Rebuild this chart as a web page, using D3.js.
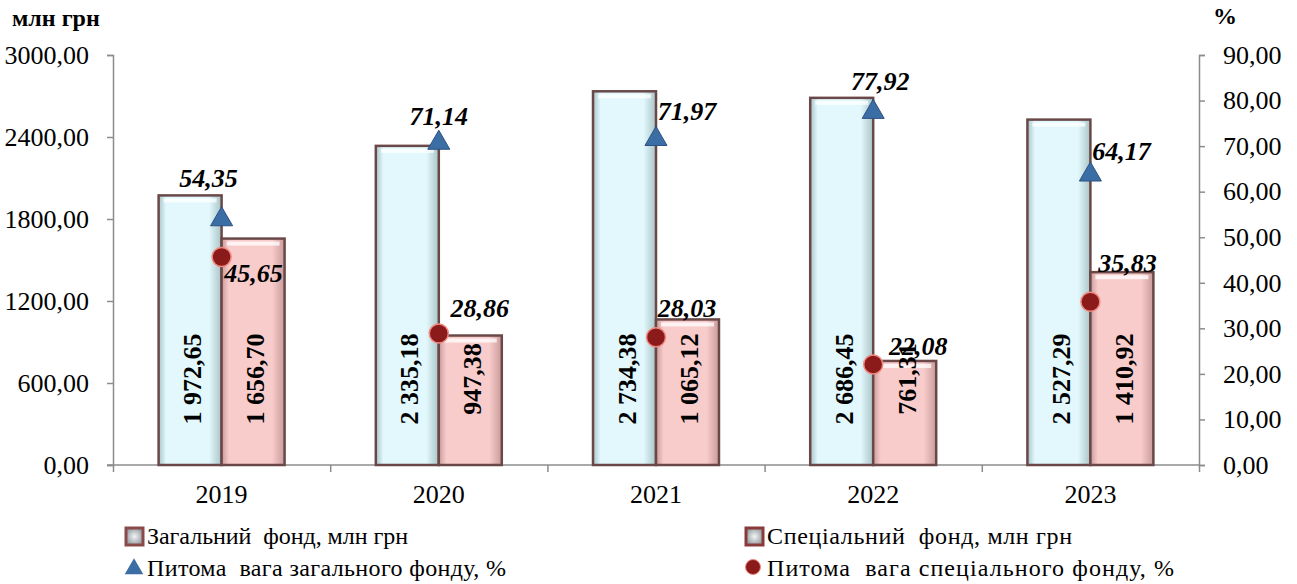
<!DOCTYPE html>
<html>
<head>
<meta charset="utf-8">
<script src="https://cdn.jsdelivr.net/npm/d3@7"></script>
<style>
  body { margin: 0; background: #fff; }
  svg { display: block; }
  svg text { font-family: "Liberation Serif", "DejaVu Serif", serif !important; }
</style>
</head>
<body>
<div id="chart"></div>
<script>
// data
var years = ["2019", "2020", "2021", "2022", "2023"];
var generalFund = [1972.65, 2335.18, 2734.38, 2686.45, 2527.29];   // млн грн
var specialFund = [1656.70, 947.38, 1065.12, 761.31, 1410.92];     // млн грн
var generalShare = [54.35, 71.14, 71.97, 77.92, 64.17];            // %
var specialShare = [45.65, 28.86, 28.03, 22.08, 35.83];            // %
var leftTicks = [0, 600, 1200, 1800, 2400, 3000];
var rightTicks = [0, 10, 20, 30, 40, 50, 60, 70, 80, 90];
var legendNames = ["Загальний  фонд, млн грн", "Спеціальний  фонд, млн грн",
                   "Питома  вага загального фонду, %", "Питома  вага спеціального фонду, %"];

// where the % labels sit relative to their markers (dx, baseline dy)
var triLabelOff = [[-13, -30], [0, -16], [31, -17], [7, -20], [31, -13]];
var circLabelOff = [[32, 25], [41, -17], [31, -20], [45, -9], [37, -30]];

var W = 1297, H = 584;
var mLeft = 113, mRight = 1199, mTop = 55, mBottom = 465;
var serif = "'Liberation Serif', 'DejaVu Serif', serif";

var loc = d3.formatLocale({decimal: ",", thousands: " ", grouping: [3], currency: ["", ""]});
var fmtTick = loc.format(".2f");
var fmtVal = loc.format(",.2f");
var fmtPct = loc.format(".2f");

var svg = d3.select("#chart").append("svg")
  .attr("width", W).attr("height", H)
  .style("font-family", serif);

var defs = svg.append("defs");
function barGrad(id, edge, mid) {
  var g = defs.append("linearGradient").attr("id", id)
    .attr("x1", 0).attr("x2", 1).attr("y1", 0).attr("y2", 0);
  g.append("stop").attr("offset", "0%").attr("stop-color", edge);
  g.append("stop").attr("offset", "12%").attr("stop-color", mid);
  g.append("stop").attr("offset", "80%").attr("stop-color", mid);
  g.append("stop").attr("offset", "100%").attr("stop-color", edge);
}
barGrad("gGen", "#a9c4c8", "#e2f8fc");
barGrad("gSpec", "#c99a9a", "#f9cccc");
var lg = defs.append("radialGradient").attr("id", "gLeg");
lg.append("stop").attr("offset", "0%").attr("stop-color", "#f4f4f4");
lg.append("stop").attr("offset", "100%").attr("stop-color", "#9aa3a8");

// scales
var x0 = d3.scaleBand().domain(years).range([mLeft, mRight])
  .paddingInner(0.42).paddingOuter(0.21);
var x1 = d3.scaleBand().domain(["gen", "spec"]).range([0, x0.bandwidth()]);
var yL = d3.scaleLinear().domain([0, 3000]).range([mBottom, mTop]);
var yR = d3.scaleLinear().domain([0, 90]).range([mBottom, mTop]);
function cx(i) { return x0(years[i]) + x0.bandwidth() / 2; }

// axes
var axisColor = "#8c8c8c";
var gL = svg.append("g").attr("transform", "translate(" + mLeft + ",0)")
  .call(d3.axisLeft(yL).tickValues(leftTicks).tickSize(6).tickPadding(18).tickFormat(fmtTick));
var gR = svg.append("g").attr("transform", "translate(" + mRight + ",0)")
  .call(d3.axisRight(yR).tickValues(rightTicks).tickSize(6).tickPadding(18).tickFormat(fmtTick));
var xb = d3.scaleLinear().domain([0, years.length]).range([mLeft, mRight]);
var gB = svg.append("g").attr("transform", "translate(0," + mBottom + ")")
  .call(d3.axisBottom(xb).tickValues(d3.range(years.length + 1)).tickSize(7).tickFormat(""));
[gL, gR, gB].forEach(function (g) {
  g.attr("font-family", null).style("font-family", serif);
  g.select(".domain").attr("stroke", axisColor).attr("stroke-width", 1.5);
  g.selectAll(".tick line").attr("stroke", axisColor).attr("stroke-width", 1.5);
  g.selectAll(".tick text").attr("fill", "#000").attr("font-size", 26);
});
gB.select(".domain").attr("d", "M" + (mLeft - 6) + ",0H" + mRight);

// year labels
svg.append("g").selectAll("text").data(years).enter().append("text")
  .attr("x", function (d, i) { return cx(i); })
  .attr("y", mBottom + 38)
  .attr("text-anchor", "middle").attr("font-size", 26)
  .text(function (d) { return d; });

// bars
var series = [
  {key: "gen", vals: generalFund, fill: "url(#gGen)"},
  {key: "spec", vals: specialFund, fill: "url(#gSpec)"}
];
series.forEach(function (s) {
  var g = svg.append("g");
  g.selectAll("rect.bar").data(s.vals).enter().append("rect")
    .attr("class", "bar")
    .attr("x", function (d, i) { return x0(years[i]) + x1(s.key); })
    .attr("y", function (d) { return yL(d); })
    .attr("width", x1.bandwidth())
    .attr("height", function (d) { return mBottom - yL(d); })
    .attr("fill", s.fill)
    .attr("stroke", "#6a4848").attr("stroke-width", 2.5);
  // top highlight of the bevel
  g.selectAll("rect.hl").data(s.vals).enter().append("rect")
    .attr("class", "hl")
    .attr("x", function (d, i) { return x0(years[i]) + x1(s.key) + 5; })
    .attr("y", function (d) { return yL(d) + 3; })
    .attr("width", x1.bandwidth() - 10)
    .attr("height", 4)
    .attr("fill", "#fff").attr("opacity", 0.75);
  // values inside bars
  g.selectAll("text").data(s.vals).enter().append("text")
    .attr("transform", function (d, i) {
      return "translate(" + (x0(years[i]) + x1(s.key) + x1.bandwidth() / 2 + 11) + "," + (mBottom - 86) + ") rotate(-90)";
    })
    .attr("text-anchor", "middle")
    .attr("font-size", 26).attr("font-weight", "bold")
    .text(function (d) { return fmtVal(d); });
});

// markers
svg.append("g").selectAll("path").data(generalShare).enter().append("path")
  .attr("d", d3.symbol().type(d3.symbolTriangle).size(210))
  .attr("transform", function (d, i) { return "translate(" + cx(i) + "," + (yR(d) + 2) + ")"; })
  .attr("fill", "#3c6ea6").attr("stroke", "#2b5282").attr("stroke-width", 1);
svg.append("g").selectAll("circle").data(specialShare).enter().append("circle")
  .attr("cx", function (d, i) { return cx(i); })
  .attr("cy", function (d) { return yR(d); })
  .attr("r", 9.5)
  .attr("fill", "#8b1a1a").attr("stroke", "#f08a80").attr("stroke-width", 1.5);

// % labels
svg.append("g").selectAll("text").data(generalShare).enter().append("text")
  .attr("x", function (d, i) { return cx(i) + triLabelOff[i][0]; })
  .attr("y", function (d, i) { return yR(d) + triLabelOff[i][1]; })
  .attr("text-anchor", "middle").attr("font-size", 26)
  .attr("font-weight", "bold").attr("font-style", "italic")
  .text(function (d) { return fmtPct(d); });
svg.append("g").selectAll("text").data(specialShare).enter().append("text")
  .attr("x", function (d, i) { return cx(i) + circLabelOff[i][0]; })
  .attr("y", function (d, i) { return yR(d) + circLabelOff[i][1]; })
  .attr("text-anchor", "middle").attr("font-size", 26)
  .attr("font-weight", "bold").attr("font-style", "italic")
  .text(function (d) { return fmtPct(d); });

// axis titles
svg.append("text").attr("x", 12).attr("y", 26)
  .attr("font-size", 24).attr("font-weight", "bold").text("млн грн");
svg.append("text").attr("x", 1213).attr("y", 24)
  .attr("font-size", 24).attr("font-weight", "bold").text("%");

// legend
var legPos = [[125, 544], [745, 544], [125, 576], [745, 576]];
var legLen = [261, 305, 359, 407];
var leg = svg.append("g");
legendNames.forEach(function (name, i) {
  var p = legPos[i];
  var g = leg.append("g").attr("transform", "translate(" + p[0] + "," + p[1] + ")");
  if (i < 2) {
    g.append("rect").attr("x", 1).attr("y", -16).attr("width", 17).attr("height", 17)
      .attr("fill", "url(#gLeg)").attr("stroke", i === 0 ? "#8a4a4a" : "#8a3a3a").attr("stroke-width", 3);
  } else if (i === 2) {
    g.append("path").attr("d", d3.symbol().type(d3.symbolTriangle).size(150))
      .attr("transform", "translate(9,-7)").attr("fill", "#3c6ea6");
  } else {
    g.append("circle").attr("cx", 8).attr("cy", -9).attr("r", 7.5)
      .attr("fill", "#8b1a1a").attr("stroke", "#f08a80").attr("stroke-width", 1);
  }
  g.append("text").attr("x", 22).attr("y", 0)
    .attr("font-size", 24).style("white-space", "pre")
    .attr("textLength", legLen[i]).attr("lengthAdjust", "spacing")
    .text(name);
});
</script>
</body>
</html>
